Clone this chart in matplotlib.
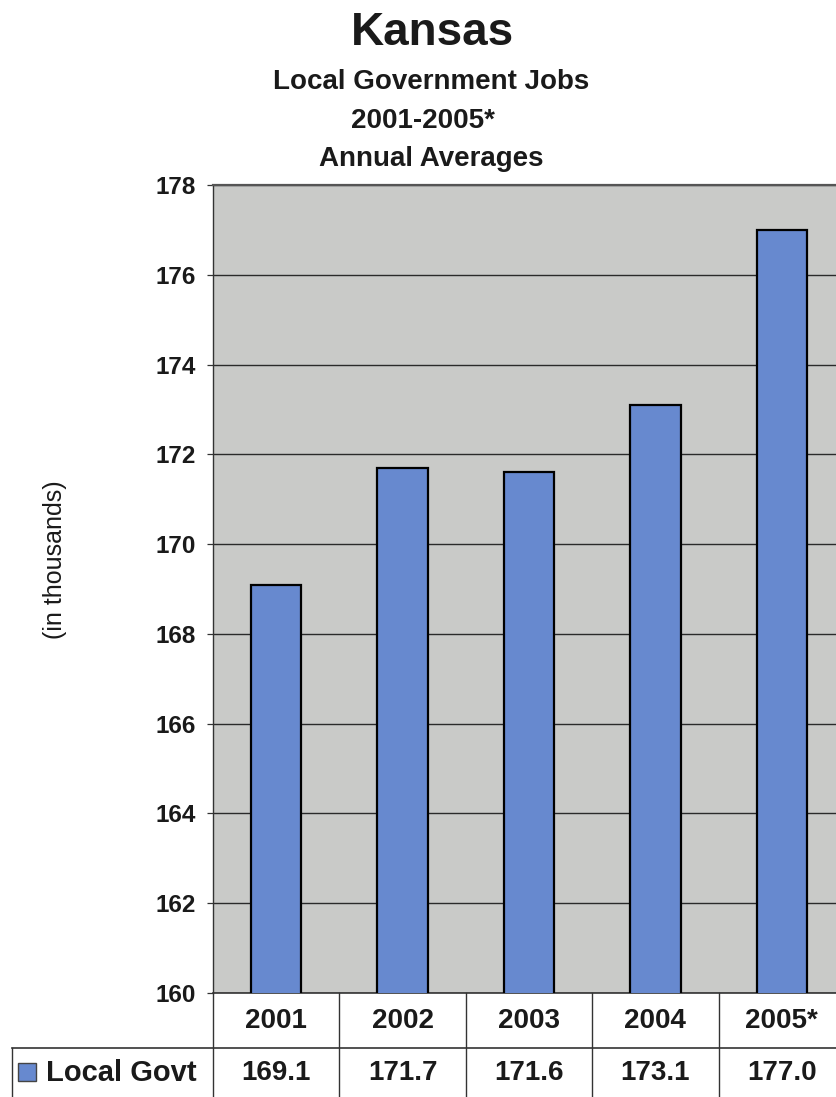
import matplotlib
matplotlib.use("Agg")
import matplotlib.pyplot as plt
from matplotlib.patches import Rectangle
from matplotlib import transforms

# Kansas local government jobs, annual averages (thousands)
years = ["2001", "2002", "2003", "2004", "2005*"]
local_govt = [169.1, 171.7, 171.6, 173.1, 177.0]
y_ticks = [160, 162, 164, 166, 168, 170, 172, 174, 176, 178]
series_name = "Local Govt"

title = "Kansas"
subtitles = ["Local Government Jobs", "2001-2005*", "Annual Averages"]
y_label = "(in thousands)"

plt.rcParams["font.family"] = ["Liberation Sans", "DejaVu Sans"]

W, H = 836, 1097
fig = plt.figure(figsize=(W / 100, H / 100), dpi=100)
fig.patch.set_facecolor("white")


def box(x0, y0, x1, y1):
    """Axes rectangle from pixel edges (y measured from the top)."""
    return [x0 / W, 1 - y1 / H, (x1 - x0) / W, (y1 - y0) / H]


BAR_COLOR = "#6789cf"
LINE_COLOR = "#333333"
TEXT_COLOR = "#1a1a1a"
PLOT_L, PLOT_R, PLOT_T, PLOT_B = 213, 845, 185, 993

# ---- bar plot ----
ax = fig.add_axes(box(PLOT_L, PLOT_T, PLOT_R, PLOT_B))
ax.set_facecolor("#c9cac8")
xpos = list(range(len(years)))
ax.bar(xpos, local_govt, width=0.4, color=BAR_COLOR, edgecolor="black",
       linewidth=1.6, zorder=3)
ax.set_xlim(-0.5, len(years) - 0.5)
ax.set_ylim(y_ticks[0], y_ticks[-1])
ax.set_yticks(y_ticks)
ax.set_yticklabels([str(t) for t in y_ticks], fontsize=17.5, fontweight="bold")
ax.tick_params(axis="y", direction="out", length=4.5, width=0.9,
               color=LINE_COLOR, pad=8, labelcolor=TEXT_COLOR)
ax.set_xticks([])
ax.yaxis.grid(True, color="#2a2a2a", linewidth=1.0, zorder=1)
ax.set_axisbelow(True)
ax.spines["left"].set_color(LINE_COLOR)
ax.spines["left"].set_linewidth(1.0)
ax.spines["bottom"].set_color(LINE_COLOR)
ax.spines["bottom"].set_linewidth(1.2)
ax.spines["top"].set_color("#555555")
ax.spines["top"].set_linewidth(1.6)
ax.spines["right"].set_visible(False)

fig.text(55 / W, 1 - 560 / H, y_label, rotation=90, fontsize=18,
         ha="center", va="center", color=TEXT_COLOR)

# ---- titles ----
fig.text(432 / W, 1 - 45 / H, title, fontsize=33, fontweight="bold",
         ha="center", va="baseline", color=TEXT_COLOR)
sub_baselines = [89, 128, 166]
sub_centers = [431, 423, 431]
for s, yb, xc in zip(subtitles, sub_baselines, sub_centers):
    fig.text(xc / W, 1 - yb / H, s, fontsize=20, fontweight="bold",
             ha="center", va="baseline", color=TEXT_COLOR)

# ---- data table below the plot ----
tax = fig.add_axes(box(0, PLOT_B, W, 1115))
tax.set_xlim(0, W)
tax.set_ylim(1115, PLOT_B)
tax.axis("off")
cat_tr = transforms.blended_transform_factory(ax.transData, tax.transData)

ROW_SPLIT = 1048
YEAR_Y, VALUE_Y = 1021, 1073
LEGEND_L = 12

for i in range(len(years) + 1):
    tax.plot([i - 0.5, i - 0.5], [PLOT_B, 1115], color=LINE_COLOR,
             linewidth=1.0, transform=cat_tr, clip_on=False)
tax.plot([LEGEND_L, PLOT_R], [ROW_SPLIT, ROW_SPLIT], color=LINE_COLOR,
         linewidth=1.2, clip_on=False)
tax.plot([LEGEND_L, LEGEND_L], [ROW_SPLIT, 1115], color=LINE_COLOR,
         linewidth=1.0, clip_on=False)

for i, (yr, v) in enumerate(zip(years, local_govt)):
    tax.text(i, YEAR_Y, yr, transform=cat_tr, fontsize=20, fontweight="bold",
             ha="center", va="center", color=TEXT_COLOR)
    tax.text(i, VALUE_Y, f"{v:.1f}", transform=cat_tr, fontsize=20,
             fontweight="bold", ha="center", va="center", color=TEXT_COLOR)

tax.add_patch(Rectangle((18, 1063), 18, 18, facecolor=BAR_COLOR,
                        edgecolor="#444444", linewidth=1.0, clip_on=False))
tax.text(46, VALUE_Y, series_name, fontsize=21, fontweight="bold",
         ha="left", va="center", color=TEXT_COLOR)

fig.savefig("out.png", dpi=100)
